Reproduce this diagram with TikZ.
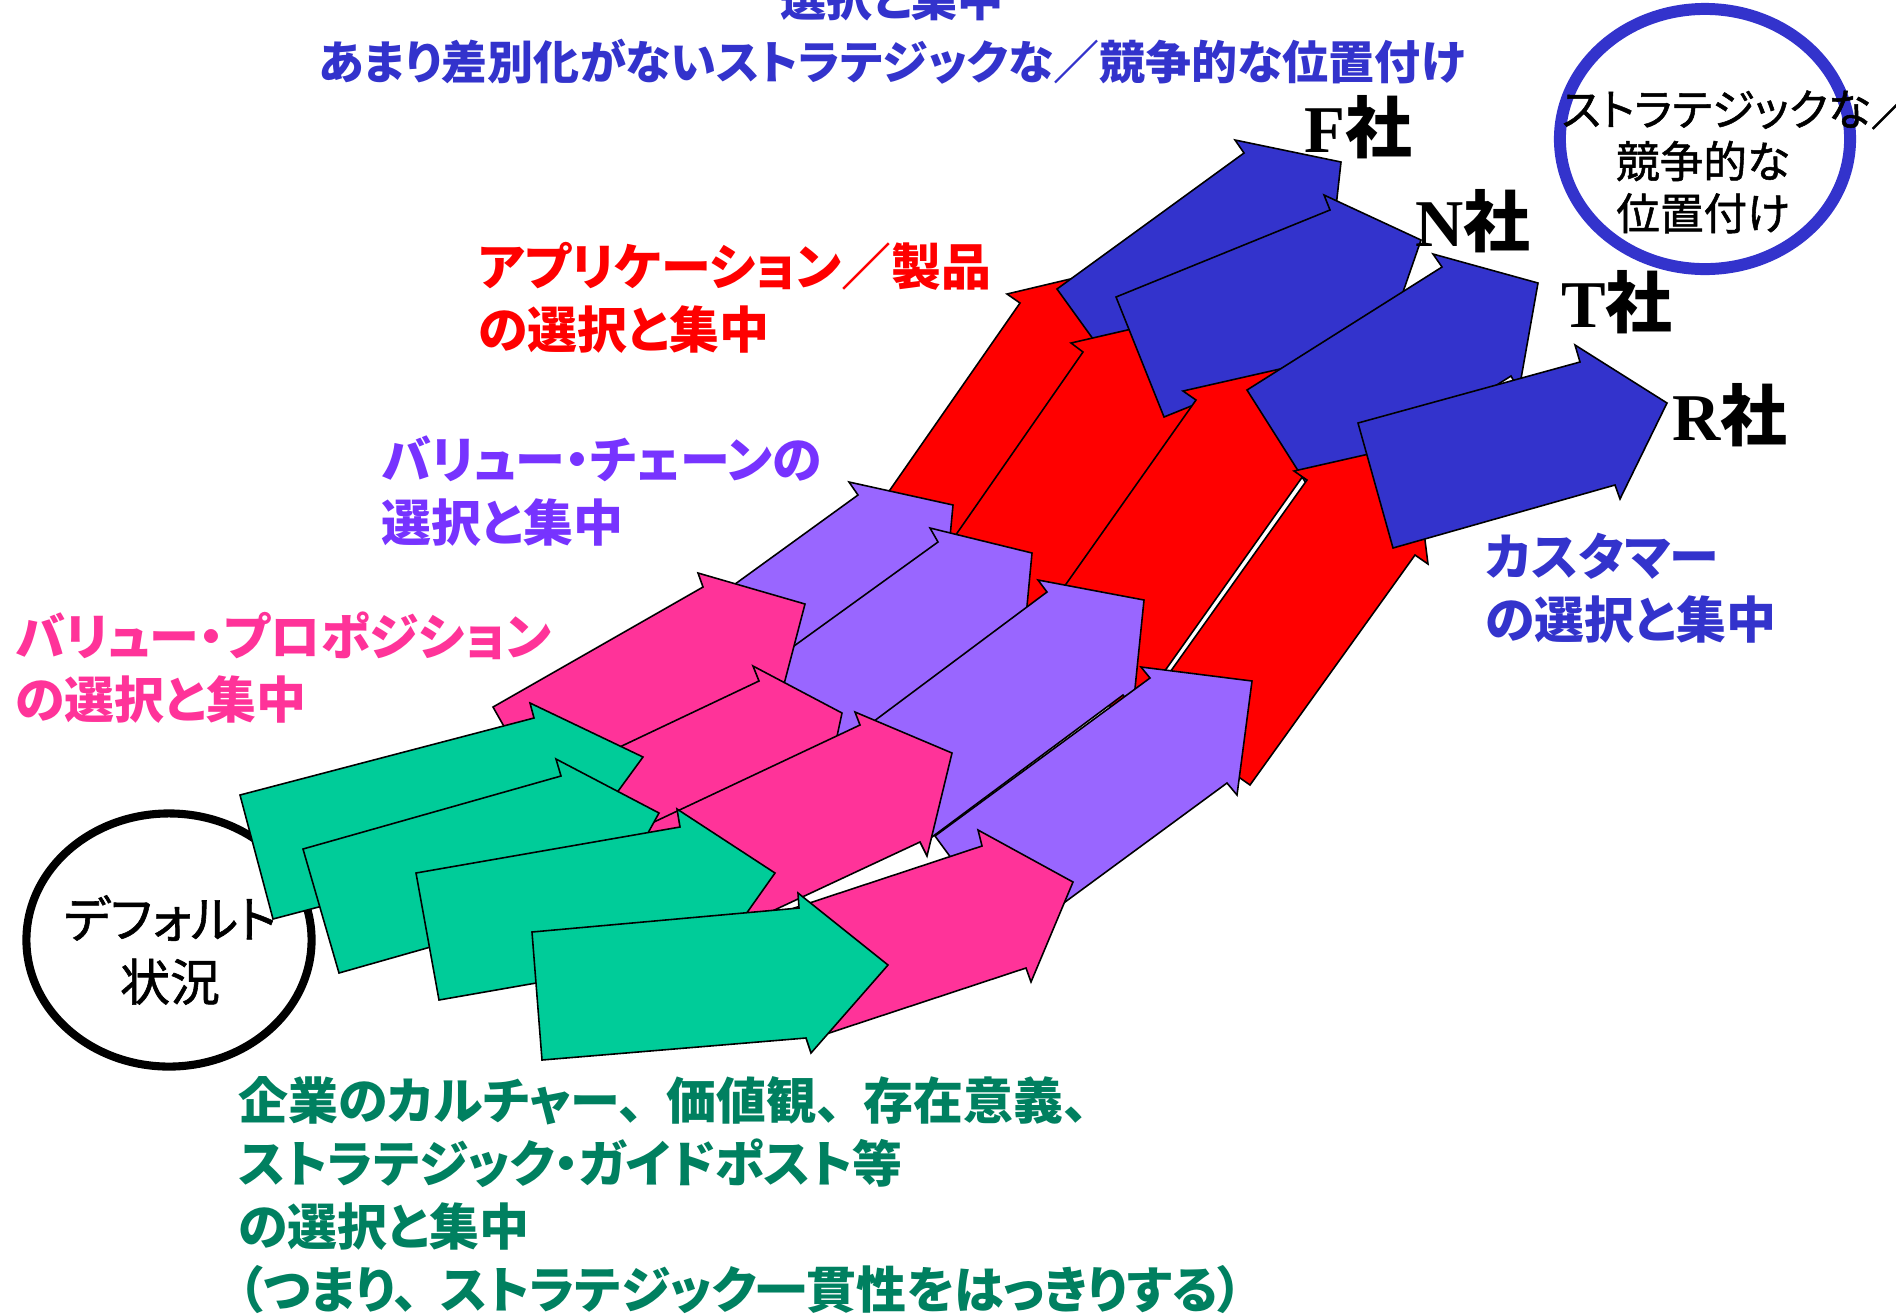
\documentclass[tikz,border=0pt]{standalone}
\usepackage{fontspec}
\setmainfont{Liberation Serif}
\newfontfamily\jp{Noto Sans CJK JP}[RawFeature=+palt]
\newfontfamily\jpmid{Noto Sans CJK JP}[RawFeature=+palt, FakeBold=1.2]
\usetikzlibrary{shapes.geometric}
\definecolor{arrowRed}{RGB}{255, 0, 0}
\definecolor{arrowBlue}{RGB}{51, 51, 204}
\definecolor{arrowPurple}{RGB}{153, 102, 255}
\definecolor{arrowPink}{RGB}{255, 51, 153}
\definecolor{arrowGreen}{RGB}{0, 204, 153}
\definecolor{textPurple}{RGB}{119, 51, 255}
\definecolor{textGreen}{RGB}{0, 128, 96}
\tikzstyle{arrowShape} = [draw=black, line width=0.45pt, line join=miter]
\tikzstyle{redArrow} = [arrowShape, fill=arrowRed]
\tikzstyle{blueArrow} = [arrowShape, fill=arrowBlue]
\tikzstyle{purpleArrow} = [arrowShape, fill=arrowPurple]
\tikzstyle{pinkArrow} = [arrowShape, fill=arrowPink]
\tikzstyle{greenArrow} = [arrowShape, fill=arrowGreen]
\tikzstyle{labelText} = [inner sep=0pt, align=left, anchor=north west,
	font={\jp\bfseries\fontsize{14.2}{17.9}\selectfont}]
\tikzstyle{firmLabel} = [inner sep=0pt, font={\bfseries\fontsize{19}{22}\selectfont}]
\tikzstyle{defaultRing} = [shape=ellipse, draw=black, line width=2.3pt, inner sep=0pt,
	minimum width=2.85cm, minimum height=2.53cm]
\tikzstyle{positionRing} = [shape=ellipse, draw=arrowBlue, line width=3.4pt, inner sep=0pt,
	minimum width=2.9cm, minimum height=2.6cm]
\tikzstyle{ringText} = [inner sep=0pt, align=center,
	font={\jpmid\fontsize{12.4}{14.8}\selectfont}]

\begin{document}
\begin{tikzpicture}[x=0.01cm, y=-0.01cm]
  \useasboundingbox[fill=white] (0,0) rectangle (1896,1314);

  \node (DEF) [defaultRing] at (169,940) {};
  \node (DEFT) [ringText, font={\jpmid\fontsize{14.2}{17.9}\selectfont}] at (170,950) {デフォルト\\状況};

  \node (TOP) [labelText, anchor=north, align=center, text=arrowBlue,
    font={\jp\bfseries\fontsize{13.1}{17.9}\selectfont}] at (892,-24)
    {選択と集中\\あまり差別化がないストラテジックな／競争的な位置付け};
  \node (APP) [labelText, text=arrowRed] at (478,242) {アプリケーション／製品\\の選択と集中};
  \node (VCH) [labelText, text=textPurple] at (381,435) {バリュー・チェーンの\\選択と集中};
  \node (VPR) [labelText, text=arrowPink] at (15,611) {バリュー・プロポジション\\の選択と集中};
  \node (CUS) [labelText, text=arrowBlue] at (1485,532) {カスタマー\\の選択と集中};
  \node (CUL) [labelText, text=textGreen] at (238,1076)
    {企業のカルチャー、\hspace{.45em}価値観、\hspace{.45em}存在意義、\\ストラテジック・ガイドポスト等\\の選択と集中\\（つまり、\hspace{.45em}ストラテジック一貫性をはっきりする）};

  \draw [redArrow] (860,533) -- (1020,303) -- (1007,294) -- (1125,266) -- (1140,387) -- (1128,378) -- (968,608) -- cycle;
  \draw [blueArrow] (1057,289) -- (1244,153) -- (1235,140) -- (1341,162) -- (1329,270) -- (1319,257) -- (1132,393) -- cycle;
  \draw [redArrow] (930,572) -- (1083,352) -- (1071,343) -- (1188,316) -- (1203,436) -- (1190,427) -- (1037,647) -- cycle;
  \draw [blueArrow] (1116,297) -- (1330,210) -- (1324,195) -- (1421,240) -- (1385,344) -- (1379,330) -- (1164,417) -- cycle;
  \draw [redArrow] (1023,645) -- (1196,400) -- (1183,391) -- (1302,364) -- (1316,485) -- (1303,476) -- (1130,720) -- cycle;
  \draw [blueArrow] (1247,390) -- (1442,267) -- (1433,254) -- (1538,283) -- (1519,390) -- (1511,376) -- (1316,499) -- cycle;
  \draw [redArrow] (1143,710) -- (1307,480) -- (1294,471) -- (1413,444) -- (1428,564) -- (1415,555) -- (1250,785) -- cycle;
  \draw [blueArrow] (1358,423) -- (1580,362) -- (1575,345) -- (1667,403) -- (1620,499) -- (1615,485) -- (1393,548) -- cycle;

  \draw [purpleArrow] (673,629) -- (858,495) -- (849,482) -- (953,505) -- (943,612) -- (933,599) -- (748,733) -- cycle;
  \draw [purpleArrow] (740,685) -- (938,542) -- (930,528) -- (1032,553) -- (1022,659) -- (1013,646) -- (815,789) -- cycle;
  \draw [purpleArrow] (850,739) -- (1047,592) -- (1038,580) -- (1144,600) -- (1133,708) -- (1123,695) -- (932,837) -- cycle;
  \draw [purpleArrow] (935,836) -- (1150,678) -- (1141,667) -- (1252,681) -- (1237,795) -- (1227,783) -- (1012,941) -- cycle;

  \draw [pinkArrow] (493,707) -- (703,587) -- (698,573) -- (805,604) -- (777,711) -- (767,700) -- (557,820) -- cycle;
  \draw [pinkArrow] (569,771) -- (759,681) -- (753,666) -- (842,713) -- (821,811) -- (814,797) -- (624,887) -- cycle;
  \draw [pinkArrow] (620,838) -- (860,725) -- (855,712) -- (952,753) -- (927,856) -- (920,842) -- (676,956) -- cycle;
  \draw [pinkArrow] (764,918) -- (982,846) -- (978,830) -- (1073,882) -- (1031,982) -- (1026,968) -- (808,1040) -- cycle;

  \draw [greenArrow] (240,795) -- (534,718) -- (530,703) -- (643,757) -- (570,857) -- (566,842) -- (273,919) -- cycle;
  \draw [greenArrow] (303,849) -- (561,776) -- (556,759) -- (659,813) -- (601,918) -- (596,900) -- (339,973) -- cycle;
  \draw [greenArrow] (416,873) -- (680,827) -- (677,809) -- (775,873) -- (705,972) -- (702,954) -- (439,1000) -- cycle;
  \draw [greenArrow] (532,932) -- (799,908) -- (798,893) -- (888,965) -- (811,1053) -- (806,1038) -- (542,1060) -- cycle;

  \node (RING) [positionRing] at (1705,139) {};
  \node (RTXT) [ringText] at (1703,161) {\hspace*{.7cm}ストラテジックな／\\競争的な\\位置付け};

  \node (FF) [firmLabel] at (1358,127) {F{\jp 社}};
  \node (NF) [firmLabel] at (1473,221) {N{\jp 社}};
  \node (TF) [firmLabel] at (1617,302) {T{\jp 社}};
  \node (RF) [firmLabel] at (1730,415) {R{\jp 社}};
\end{tikzpicture}
\end{document}
